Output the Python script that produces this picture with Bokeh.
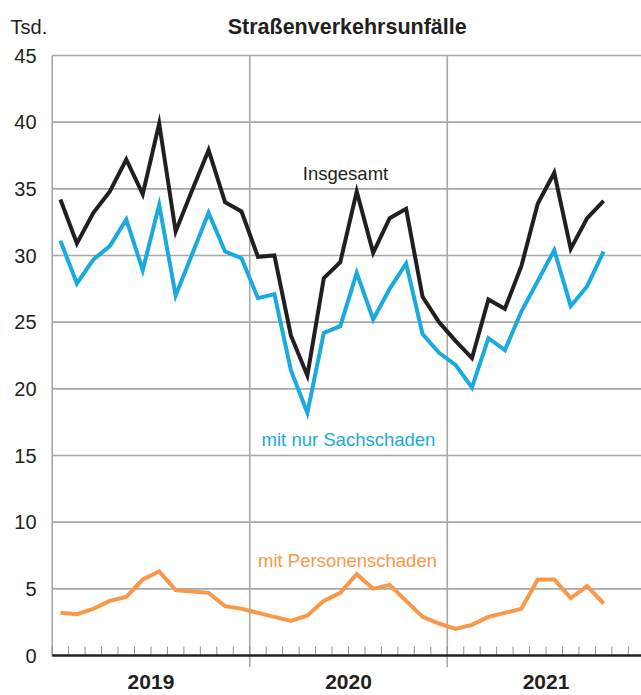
from bokeh.plotting import figure
from bokeh.models import Range1d, FixedTicker, Label
from bokeh.embed import file_html
from bokeh.resources import INLINE

# ---- data (thousands of road traffic accidents, monthly Jan 2019 - Oct 2021)
years = ["2019", "2020", "2021"]
insgesamt = [34.2, 30.9, 33.2, 34.8, 37.2, 34.6, 39.9, 31.8, 34.9, 37.9, 34.0, 33.3,
             29.9, 30.0, 24.0, 21.0, 28.3, 29.5, 34.8, 30.2, 32.8, 33.5, 26.9, 25.0,
             23.6, 22.3, 26.7, 26.0, 29.2, 33.9, 36.2, 30.5, 32.8, 34.1]
sachschaden = [31.1, 27.9, 29.7, 30.7, 32.7, 28.9, 33.8, 27.0, 30.1, 33.2, 30.3, 29.8,
               26.8, 27.1, 21.4, 18.2, 24.2, 24.7, 28.7, 25.2, 27.5, 29.4, 24.1, 22.7,
               21.8, 20.1, 23.8, 22.9, 25.8, 28.1, 30.4, 26.2, 27.7, 30.3]
personenschaden = [3.2, 3.1, 3.5, 4.1, 4.4, 5.7, 6.3, 4.9, 4.8, 4.7, 3.7, 3.5,
                   3.2, 2.9, 2.6, 3.0, 4.1, 4.7, 6.1, 5.0, 5.3, 4.1, 2.9, 2.4,
                   2.0, 2.3, 2.9, 3.2, 3.5, 5.7, 5.7, 4.3, 5.2, 3.9]
y_ticks = [0, 5, 10, 15, 20, 25, 30, 35, 40, 45]
y_tick_labels = [str(t) for t in y_ticks]

months = [i + 0.5 for i in range(len(insgesamt))]
year_bounds = [12 * i for i in range(len(years))]
year_centers = [12 * i + 6 for i in range(len(years))]
month_bounds = list(range(0, 36))

FONT = "Liberation Sans"
BLACK = "#231f20"
BLUE = "#1aaadd"
ORANGE = "#f7984a"
GRID = "#a8a8a8"
TICK = "#8f8f8f"

X0, X1 = -3.141, 35.80
Y0, Y1 = -0.9, 49.125
TICK_LEN = 0.675  # month tick height in value units (about 9 px)

p = figure(width=641, height=695, output_backend="svg", toolbar_location=None,
           x_range=Range1d(X0, X1), y_range=Range1d(Y0, Y1), y_axis_location=None,
           min_border_left=0, min_border_right=0, min_border_top=0, min_border_bottom=28)
p.outline_line_color = None
p.background_fill_color = "white"
p.border_fill_color = "white"
p.xgrid.visible = False
p.ygrid.visible = False

# x axis: year labels
p.xaxis.ticker = FixedTicker(ticks=year_centers)
p.xaxis.major_label_overrides = {c: y for c, y in zip(year_centers, years)}
p.xaxis.axis_line_color = None
p.xaxis.major_tick_line_color = None
p.xaxis.minor_tick_line_color = None
p.xaxis.major_label_text_font = FONT
p.xaxis.major_label_text_font_style = "bold"
p.xaxis.major_label_text_font_size = "21px"
p.xaxis.major_label_text_color = BLACK
p.xaxis.major_label_standoff = 1

# horizontal grid lines
n = len(y_ticks) - 1
p.segment(x0=[0] * n, y0=y_ticks[1:], x1=[X1] * n, y1=y_ticks[1:],
          line_color=GRID, line_width=1.6)
# left border and year separators (separators continue below the axis)
p.segment(x0=year_bounds[:1], y0=[0], x1=year_bounds[:1], y1=[y_ticks[-1]],
          line_color=GRID, line_width=1.6)
m = len(year_bounds) - 1
p.segment(x0=year_bounds[1:], y0=[Y0] * m, x1=year_bounds[1:], y1=[y_ticks[-1]] * m,
          line_color=GRID, line_width=1.6)
# month ticks
p.segment(x0=month_bounds, y0=[0] * len(month_bounds), x1=month_bounds,
          y1=[TICK_LEN] * len(month_bounds), line_color=TICK, line_width=1)
# baseline (x axis line)
p.segment(x0=[0], y0=[0], x1=[X1], y1=[0], line_color=BLACK, line_width=2.6)

# y tick labels
p.text(x=[-0.95] * len(y_ticks), y=y_ticks, text=y_tick_labels, text_align="right",
       text_baseline="middle", text_font={"value": FONT}, text_font_size={"value": "20px"},
       text_color=BLACK)

# lines
p.line(months, insgesamt, line_color=BLACK, line_width=4, line_join="miter")
p.line(months, sachschaden, line_color=BLUE, line_width=4, line_join="miter")
p.line(months, personenschaden, line_color=ORANGE, line_width=4, line_join="miter")

# labels
def lab(x, y, text, color, size="18.5px", bold=False, align="center"):
    p.add_layout(Label(x=x, y=y, text=text, text_color=color, text_font=FONT,
                       text_font_size=size, text_align=align, text_baseline="alphabetic",
                       text_font_style="bold" if bold else "normal"))

lab(17.82, 36.13, "Insgesamt", BLACK)
lab(18.0, 16.2, "mit nur Sachschaden", BLUE)
lab(17.94, 7.09, "mit Personenschaden", ORANGE)
lab(-2.533, 47.17, "Tsd.", BLACK, size="20px", align="left")
lab(17.92, 47.17, "Straßenverkehrsunfälle", BLACK, size="21.5px", bold=True)

open("out.html", "w").write(file_html(p, INLINE))
